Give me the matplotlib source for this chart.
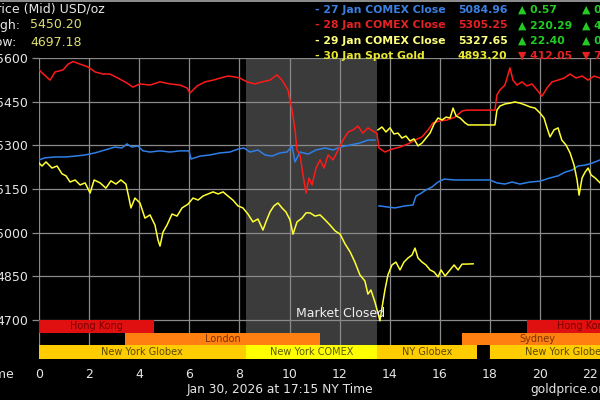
import numpy as np
import matplotlib.pyplot as plt

# hours (NY time) and prices
red_h = [0, 0.44, 0.64, 0.96, 1.16, 1.36, 1.64, 1.96, 2.24, 2.55, 2.83, 3.15, 3.51, 3.75, 4.03,
         4.43, 4.83, 5.23, 5.63, 5.91, 6.03, 6.31, 6.63, 6.95, 7.23, 7.54, 7.82, 8.02, 8.30,
         8.62, 8.90, 9.22, 9.50, 9.70, 9.94, 10.1, 10.22, 10.3, 10.42, 10.54, 10.66, 10.78,
         10.9, 11.06, 11.22, 11.38, 11.54, 11.74, 11.94, 12.14, 12.34, 12.54, 12.73, 12.93,
         13.13, 13.33, 13.49, 13.57, 13.81, 14.09, 14.41, 14.73, 15.01, 15.29, 15.53, 15.73,
         16.01, 16.29, 16.61, 16.89, 17.09, 18.2, 18.28, 18.40, 18.60, 18.80, 18.92, 19.08,
         19.28, 19.48, 19.68, 19.88, 20.08, 20.28, 20.48, 20.72, 20.96, 21.2, 21.44, 21.68,
         21.92, 22.16, 22.4]
red_p = [5559, 5524, 5552, 5559, 5579, 5588, 5579, 5569, 5552, 5545, 5545, 5531, 5514, 5500, 5511,
         5507, 5518, 5511, 5507, 5497, 5480, 5504, 5518, 5524, 5531, 5538, 5535, 5531, 5518,
         5511, 5518, 5524, 5542, 5524, 5490, 5421, 5353, 5284, 5267, 5198, 5136, 5188,
         5164, 5222, 5250, 5222, 5267, 5250, 5284, 5318, 5346, 5353, 5366, 5342,
         5360, 5349, 5342, 5291, 5277, 5287, 5294, 5305, 5318, 5329, 5353, 5377,
         5384, 5387, 5397, 5418, 5421, 5421, 5473, 5490, 5507, 5566, 5524, 5507,
         5518, 5504, 5511, 5490, 5469, 5497, 5518, 5524, 5531, 5545, 5531, 5538,
         5524, 5538, 5531]

blue_h = [0, 0.24, 0.64, 1.04, 1.44, 1.84, 2.24, 2.63, 3.03, 3.31, 3.51, 3.71, 3.95, 4.15, 4.43,
          4.83, 5.23, 5.63, 5.99, 6.07, 6.43, 6.83, 7.23, 7.62, 7.94, 8.18, 8.42, 8.74, 9.02,
          9.30, 9.62, 9.90, 10.10, 10.22, 10.42, 10.74, 11.06, 11.42, 11.74, 12.02, 12.42,
          12.81, 13.13, 13.41, 13.5, 13.57, 13.93, 14.21, 14.61, 14.93, 15.05, 15.21, 15.45,
          15.69, 15.93, 16.17, 16.61, 17.21, 18.0, 18.28, 18.60, 18.88, 19.2, 19.6, 20.0, 20.4,
          20.72, 21.0, 21.28, 21.52, 21.8, 22.08, 22.4]
blue_p = [5250, 5257, 5260, 5260, 5263, 5267, 5274, 5284, 5294, 5291, 5305, 5294, 5298, 5281, 5277,
          5281, 5277, 5281, 5281, 5253, 5263, 5267, 5274, 5277, 5287, 5291, 5277, 5284, 5267,
          5263, 5274, 5277, 5298, 5243, 5277, 5270, 5284, 5291, 5284, 5294, 5301,
          5308, 5318, 5318, np.nan, 5092, 5088, 5085, 5092, 5095, 5126, 5133, 5147,
          5157, 5174, 5184, 5181, 5181, 5181, 5171, 5167, 5174, 5167, 5174, 5177, 5188,
          5195, 5208, 5215, 5229, 5232, 5239, 5250]

spot_h = [0, 0.12, 0.28, 0.52, 0.72, 0.92, 1.08, 1.24, 1.44, 1.64, 1.84, 2.04, 2.20, 2.44, 2.67,
          2.87, 3.07, 3.27, 3.47, 3.59, 3.67, 3.83, 4.03, 4.23, 4.43, 4.63, 4.75, 4.83, 4.95,
          5.11, 5.31, 5.51, 5.71, 5.95, 6.15, 6.35, 6.55, 6.75, 6.95, 7.15, 7.35, 7.54, 7.74,
          7.94, 8.14, 8.34, 8.54, 8.74, 8.94, 9.06, 9.22, 9.38, 9.54, 9.70, 9.86, 10.02, 10.14,
          10.30, 10.50, 10.66, 10.82, 11.02, 11.22, 11.42, 11.62, 11.82, 12.02, 12.22, 12.42,
          12.61, 12.81, 13.01, 13.13, 13.25, 13.41, 13.53, 13.61, 13.69, 13.81, 13.93, 14.09,
          14.25, 14.41, 14.57, 14.73, 14.89, 15.01, 15.13, 15.29, 15.45, 15.61, 15.77, 15.93,
          16.05, 16.21, 16.41, 16.57, 16.73, 16.89, 17.05, 17.33]
spot_p = [5239, 5229, 5243, 5222, 5229, 5202, 5195, 5174, 5181, 5164, 5171, 5136, 5181, 5171, 5153,
          5178, 5167, 5181, 5167, 5119, 5085, 5119, 5102, 5050, 5061, 5026, 4975, 4954, 5002,
          5026, 5064, 5057, 5085, 5098, 5119, 5112, 5126, 5133, 5140, 5133, 5140, 5126, 5112,
          5092, 5085, 5064, 5037, 5047, 5009, 5037, 5071, 5092, 5102, 5085, 5071, 5044, 4995,
          5037, 5050, 5068, 5068, 5057, 5061, 5044, 5026, 5006, 4995, 4961, 4934,
          4899, 4855, 4834, 4789, 4803, 4762, 4724, 4697, 4741, 4803, 4855, 4889,
          4899, 4872, 4899, 4913, 4923, 4947, 4913, 4899, 4889, 4872, 4865, 4848,
          4872, 4851, 4872, 4889, 4872, 4892, 4892, 4893]

jan29_h = [13.53, 13.69, 13.85, 14.01, 14.17, 14.33, 14.49, 14.65, 14.81, 14.97, 15.13, 15.29,
           15.45, 15.61, 15.77, 15.93, 16.09, 16.25, 16.41, 16.53, 16.65, 16.81, 17.01, 17.13,
           18.20, 18.28, 18.40, 18.60, 18.80, 19.0, 19.2, 19.4, 19.6, 19.8, 20.0, 20.16, 20.28,
           20.40, 20.56, 20.72, 20.87, 21.04, 21.2, 21.36, 21.48, 21.56, 21.68, 21.8, 21.92,
           22.04, 22.2, 22.4]
jan29_p = [5353, 5363, 5346, 5360, 5339, 5342, 5325, 5332, 5315, 5322, 5298, 5308,
           5325, 5342, 5373, 5394, 5387, 5397, 5394, 5428, 5401, 5394, 5377, 5370,
           5370, 5421, 5435, 5442, 5445, 5449, 5445, 5439, 5432, 5428, 5411, 5394, 5360,
           5329, 5353, 5360, 5318, 5301, 5274, 5232, 5181, 5129, 5188, 5208, 5222,
           5198, 5188, 5171]

# trading sessions: (name, start, end, row, colour)
sessions = [
    ('Hong Kong', 0, 4.6, 0, '#e01010'),
    ('Hong Kong', 19.5, 24, 0, '#e01010'),
    ('London', 3.45, 11.22, 1, '#ff8010'),
    ('Sydney', 16.9, 24, 1, '#ff8010'),
    ('New York Globex', 0, 8.25, 2, '#ffcc00'),
    ('New York COMEX', 8.25, 13.5, 2, '#ffff00'),
    ('NY Globex', 13.5, 17.5, 2, '#ffcc00'),
    ('New York Globex', 18, 24, 2, '#ffcc00'),
]
session_label_x = [2.3, 21.75, 7.33, 19.9, 4.12, 10.88, 15.5, 21.05]
text_cols = {'#e01010': '#7a0000', '#ff8010': '#7a3000', '#ffcc00': '#5a4a00', '#ffff00': '#5a5a00'}

legend_rows = [
    ('- 27 Jan COMEX Close', '5084.96', '\u25b2 0.57', '\u25b2 0.01%', '#3b7fe0', '#22cc22'),
    ('- 28 Jan COMEX Close', '5305.25', '\u25b2 220.29', '\u25b2 4.33%', '#e52222', '#22cc22'),
    ('- 29 Jan COMEX Close', '5327.65', '\u25b2 22.40', '\u25b2 0.42%', '#ffff80', '#22cc22'),
    ('- 30 Jan Spot Gold', '4893.20', '\u25bc 412.05', '\u25bc 7.77%', '#e8e830', '#e52222'),
]

W, H = 600, 400
def px(x, y):
    return x / W, 1 - y / H

fig = plt.figure(figsize=(6, 4), dpi=100, facecolor='black')
x0, x1 = 39, 39 + 24 * 25.05
ytop, ybot = 58, 359
ax = fig.add_axes([x0 / W, 1 - ybot / H, (x1 - x0) / W, (ybot - ytop) / H])
ax.set_facecolor('black')
per_px = 900 / (320 - ytop)
ax.set_xlim(0, 24)
ax.set_ylim(5600 - (ybot - ytop) * per_px, 5600)
for s in ax.spines.values():
    s.set_visible(False)

ax.axvspan(8.25, 13.5, color='#3b3b3b', zorder=0, lw=0)
for v in range(0, 25, 2):
    ax.axvline(v, color='#8a8a8a', lw=0.9, zorder=1)
for v in range(4700, 5601, 150):
    ax.axhline(v, color='#8a8a8a', lw=0.9, zorder=1)

ax.set_yticks(range(4700, 5601, 150))
ax.set_xticks(range(0, 25, 2))
ax.tick_params(axis='y', colors='#8a8a8a', labelcolor='#e6e6e6', length=5, width=0.9,
               pad=3, labelsize=9)
ax.tick_params(axis='x', length=0, pad=6.5, labelcolor='#e6e6e6', labelsize=9)

# session bars
rows = [(0.0874, 0.1296), (0.0465, 0.0854), (0.0, 0.0465)]
tr = ax.get_xaxis_transform()
for (name, a, b, r, c), lx in zip(sessions, session_label_x):
    lo, hi = rows[r]
    ax.broken_barh([(a, b - a)], (lo, hi - lo), transform=tr, facecolor=c, zorder=2)
    ax.text(lx, (lo + hi) / 2, name, transform=tr, ha='center', va='center',
            fontsize=7, color=text_cols[c], zorder=3)

ax.plot(blue_h, blue_p, color='#2f7fe8', lw=1.1, zorder=3)
ax.plot(red_h, red_p, color='#ff1a1a', lw=1.1, zorder=4)
ax.plot(jan29_h, jan29_p, color='#ffff33', lw=1.1, zorder=4)
ax.plot(spot_h, spot_p, color='#ffff33', lw=1.1, zorder=5)
ax.text(12.05, 4722, 'Market Closed', color='#f0f0f0', fontsize=9, ha='center', va='center', zorder=6)

# header
fig.text(*px(105, 9), 'Price (Mid) USD/oz', color='#e6e6e6', fontsize=9, ha='right', va='center')
fig.text(*px(21, 25), 'High:', color='#e6e6e6', fontsize=9, ha='right', va='center')
fig.text(*px(17, 42), 'Low:', color='#e6e6e6', fontsize=9, ha='right', va='center')
fig.text(*px(30, 25), '5450.20', color='#dede70', fontsize=9, ha='left', va='center')
fig.text(*px(30, 42), '4697.18', color='#dede70', fontsize=9, ha='left', va='center')

for i, (lab, val, chg, pct, col, ccol) in enumerate(legend_rows):
    y = 10 + i * 15.3
    fig.text(*px(315, y), lab, color=col, fontsize=7.8, fontweight='bold', ha='left', va='center')
    fig.text(*px(458, y), val, color=col, fontsize=7.8, fontweight='bold', ha='left', va='center')
    fig.text(*px(518, y), chg, color=ccol, fontsize=7.8, fontweight='bold', ha='left', va='center')
    fig.text(*px(582, y), pct, color=ccol, fontsize=7.8, fontweight='bold', ha='left', va='center')

# footer
fig.text(*px(14, 374), 'Time', color='#e6e6e6', fontsize=9, ha='right', va='center')
fig.text(*px(280, 390), 'Jan 30, 2026 at 17:15 NY Time', color='#e6e6e6', fontsize=8.8,
         ha='center', va='center')
fig.text(*px(530, 390), 'goldprice.org', color='#e6e6e6', fontsize=8.8, ha='left', va='center')

fig.add_artist(plt.Rectangle((0, 1 - 2 / H), 1, 2 / H, transform=fig.transFigure,
                             color='#8a8a8a', lw=0))

fig.savefig('out.png', dpi=100, facecolor='black')
